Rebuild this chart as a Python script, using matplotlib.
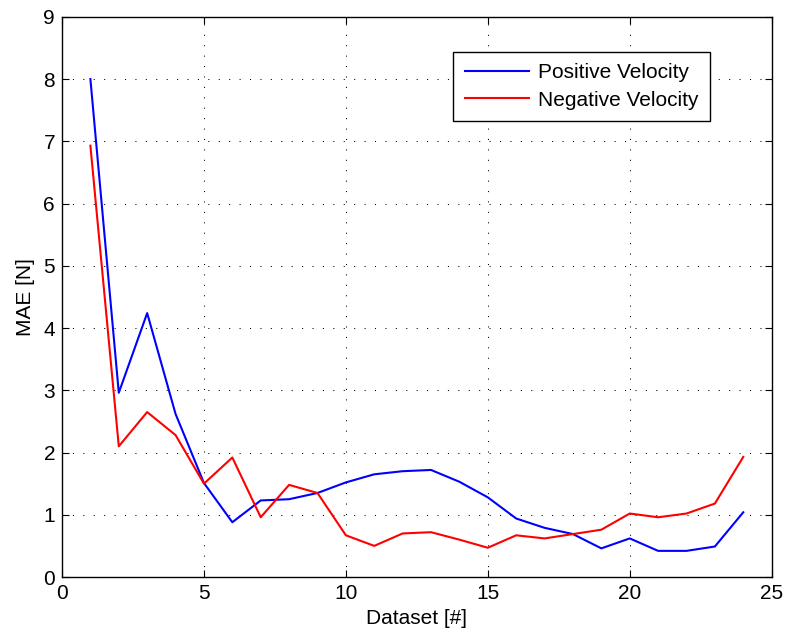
#!/usr/bin/env python3
"""MAE per dataset for positive and negative velocity."""

import matplotlib
matplotlib.use("Agg")
import matplotlib.pyplot as plt

dataset = list(range(1, 25))
mae_positive = [8.00, 2.96, 4.24, 2.62, 1.51, 0.88, 1.23, 1.25, 1.35, 1.52,
                1.65, 1.70, 1.72, 1.53, 1.28, 0.94, 0.79, 0.69, 0.46, 0.62,
                0.42, 0.42, 0.49, 1.04]
mae_negative = [6.93, 2.10, 2.65, 2.28, 1.50, 1.92, 0.96, 1.48, 1.35, 0.67,
                0.50, 0.70, 0.72, 0.60, 0.47, 0.67, 0.62, 0.69, 0.76, 1.02,
                0.96, 1.02, 1.18, 1.93]

plt.rcParams['font.family'] = ['Liberation Sans', 'DejaVu Sans']
FONT_SIZE = 15

fig = plt.figure(figsize=(7.85, 6.38), dpi=100)
ax = fig.add_axes([0.079, 0.0956, 0.904, 0.878])

ax.plot(dataset, mae_positive, color='#0000ff', linewidth=1.5, label='Positive Velocity')
ax.plot(dataset, mae_negative, color='#ff0000', linewidth=1.5, label='Negative Velocity')

ax.set_xlim(0, 25)
ax.set_ylim(0, 9)
ax.set_xticks(range(0, 26, 5))
ax.set_yticks(range(0, 10))
ax.set_xlabel('Dataset [#]', fontsize=FONT_SIZE, labelpad=4)
ax.set_ylabel('MAE [N]', fontsize=FONT_SIZE, labelpad=6)

ax.tick_params(direction='in', top=True, right=True, labelsize=FONT_SIZE,
               length=5, width=0.8, pad=5)
ax.grid(True, color='black', linestyle=(0, (1, 9)), linewidth=0.75)
for spine in ax.spines.values():
    spine.set_linewidth(1.0)

leg = ax.legend(loc='upper right', bbox_to_anchor=(0.9127, 0.9375), fontsize=FONT_SIZE,
                fancybox=False, edgecolor='black', framealpha=1, borderaxespad=0,
                handlelength=3.1, handletextpad=0.4, borderpad=0.55, labelspacing=0.4)
leg.get_frame().set_linewidth(1.0)

fig.savefig('out.png', dpi=100)
